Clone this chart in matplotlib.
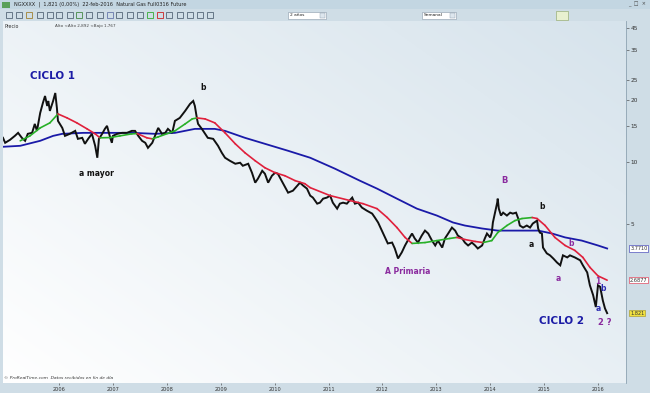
import numpy as np
import matplotlib
matplotlib.use("Agg")
import matplotlib.pyplot as plt
from matplotlib.patches import Rectangle
from matplotlib.ticker import FixedLocator, FixedFormatter, NullLocator

# ---------------- data (decimal year, price) ----------------
price_t = [2004.96, 2005.00, 2005.09, 2005.18, 2005.24, 2005.31, 2005.37, 2005.42, 2005.50, 2005.55,
           2005.59, 2005.65, 2005.70, 2005.74, 2005.78, 2005.80, 2005.83, 2005.89, 2005.93, 2005.96,
           2005.98, 2006.06, 2006.11, 2006.20, 2006.30, 2006.35, 2006.43, 2006.48, 2006.54, 2006.61,
           2006.67, 2006.71, 2006.74, 2006.80, 2006.85, 2006.89, 2006.95, 2006.98, 2007.00, 2007.08,
           2007.17, 2007.26, 2007.35, 2007.41, 2007.47, 2007.54, 2007.60, 2007.65, 2007.73, 2007.78,
           2007.84, 2007.91, 2007.97, 2008.02, 2008.10, 2008.15, 2008.24, 2008.34, 2008.43, 2008.49,
           2008.52, 2008.56, 2008.58, 2008.65, 2008.71, 2008.76, 2008.86, 2008.95, 2009.02, 2009.08,
           2009.17, 2009.27, 2009.36, 2009.41, 2009.51, 2009.58, 2009.64, 2009.69, 2009.77, 2009.82,
           2009.88, 2009.95, 2010.01, 2010.06, 2010.16, 2010.25, 2010.34, 2010.42, 2010.47, 2010.53,
           2010.60, 2010.66, 2010.71, 2010.79, 2010.84, 2010.90, 2010.97, 2011.03, 2011.08, 2011.16,
           2011.21, 2011.27, 2011.34, 2011.44, 2011.49, 2011.55, 2011.62, 2011.71, 2011.81, 2011.86,
           2011.92, 2011.99, 2012.05, 2012.10, 2012.18, 2012.23, 2012.29, 2012.36, 2012.42, 2012.47,
           2012.55, 2012.60, 2012.66, 2012.73, 2012.79, 2012.85, 2012.92, 2012.98, 2013.03, 2013.11,
           2013.16, 2013.22, 2013.29, 2013.35, 2013.40, 2013.48, 2013.53, 2013.59, 2013.66, 2013.72,
           2013.77, 2013.85, 2013.90, 2013.94, 2014.00, 2014.03, 2014.05, 2014.09, 2014.13, 2014.14,
           2014.16, 2014.20, 2014.24, 2014.31, 2014.37, 2014.42, 2014.48, 2014.52, 2014.55, 2014.61,
           2014.68, 2014.74, 2014.79, 2014.87, 2014.89, 2014.92, 2014.96, 2014.98, 2015.05, 2015.11,
           2015.17, 2015.24, 2015.30, 2015.35, 2015.43, 2015.48, 2015.57, 2015.67, 2015.72, 2015.80,
           2015.85, 2015.91, 2015.96, 2016.00, 2016.04, 2016.07, 2016.09, 2016.13, 2016.17]
price_v = [13.08, 12.37, 12.79, 13.37, 13.83, 13.08, 12.65, 13.68, 13.83, 15.29,
           14.14, 17.29, 19.34, 20.91, 18.70, 19.78, 17.69, 19.78, 21.63, 18.29,
           15.82, 14.62, 13.37, 13.68, 14.14, 12.93, 13.08, 12.23, 12.93, 13.68,
           11.96, 10.46, 12.93, 13.68, 14.46, 14.96, 13.08, 12.37, 13.37, 13.68,
           13.83, 13.83, 14.14, 14.14, 13.37, 12.65, 12.37, 11.69, 12.37, 13.37,
           14.62, 13.68, 13.83, 14.46, 13.83, 15.82, 16.35, 17.69, 19.13, 19.78,
           18.70, 16.17, 15.29, 14.46, 13.68, 13.08, 12.93, 11.96, 11.06, 10.46,
           10.11, 9.78, 9.89, 9.56, 9.78, 8.84, 7.91, 8.27, 9.04, 8.74,
           7.91, 8.55, 8.84, 8.74, 7.82, 7.07, 7.23, 7.65, 7.91, 7.65,
           7.40, 6.84, 6.69, 6.25, 6.32, 6.61, 6.69, 6.84, 6.32, 5.91,
           6.25, 6.32, 6.25, 6.69, 6.25, 6.32, 5.98, 5.78, 5.59, 5.35,
           5.06, 4.62, 4.28, 4.00, 4.04, 3.78, 3.38, 3.62, 3.91, 4.13,
           4.47, 4.23, 4.04, 4.37, 4.62, 4.47, 4.13, 3.91, 4.13, 3.82,
           4.23, 4.47, 4.78, 4.62, 4.37, 4.23, 4.04, 3.91, 4.04, 3.91,
           3.78, 3.91, 4.23, 4.47, 4.28, 4.52, 5.06, 5.65, 6.32, 6.61,
           5.91, 5.47, 5.65, 5.47, 5.65, 5.59, 5.65, 5.29, 4.89, 4.78,
           4.89, 4.78, 5.00, 5.17, 4.73, 4.52, 4.47, 3.82, 3.58, 3.50,
           3.38, 3.23, 3.13, 3.50, 3.42, 3.50, 3.42, 3.31, 3.13, 2.89,
           2.50, 2.24, 1.96, 2.50, 2.46, 2.24, 2.11, 1.93, 1.83]

# medium moving average (green when rising, red when falling)
ma_t = [2005.28, 2005.46, 2005.65, 2005.83, 2005.98, 2006.15, 2006.33, 2006.52, 2006.67, 2006.76,
        2006.95, 2007.13, 2007.35, 2007.45, 2007.63, 2007.73, 2007.84, 2008.15, 2008.34, 2008.47,
        2008.56, 2008.71, 2008.89, 2009.08, 2009.27, 2009.45, 2009.64, 2009.82, 2010.01, 2010.19,
        2010.38, 2010.56, 2010.66, 2011.03, 2011.40, 2011.64, 2011.90, 2012.09, 2012.27, 2012.42,
        2012.55, 2012.79, 2013.01, 2013.25, 2013.38, 2013.53, 2013.72, 2013.87, 2014.03, 2014.14,
        2014.31, 2014.46, 2014.59, 2014.78, 2014.87, 2015.02, 2015.20, 2015.39, 2015.57, 2015.72,
        2015.85, 2016.00, 2016.17]
ma_v = [12.65, 13.37, 14.62, 15.47, 17.10, 16.35, 15.47, 14.46, 13.68, 13.08,
        13.12, 13.37, 13.68, 13.72, 13.08, 12.93, 13.22, 14.14, 15.29, 16.17,
        16.35, 16.17, 15.47, 13.83, 12.23, 11.06, 10.11, 9.35, 8.84, 8.55,
        8.09, 7.82, 7.48, 6.84, 6.47, 6.25, 5.91, 5.35, 4.78, 4.28,
        4.00, 4.04, 4.13, 4.23, 4.28, 4.18, 4.09, 4.04, 4.13, 4.52,
        4.89, 5.17, 5.29, 5.35, 5.29, 4.89, 4.28, 3.91, 3.70, 3.42,
        3.06, 2.78, 2.65]

# long moving average (blue)
lma_t = [2004.96, 2005.28, 2005.65, 2005.89, 2006.06, 2006.45, 2006.76, 2007.37, 2007.78, 2008.15,
         2008.52, 2008.65, 2008.89, 2009.08, 2009.45, 2009.82, 2010.25, 2010.66, 2011.12, 2011.58,
         2011.90, 2012.27, 2012.64, 2013.01, 2013.31, 2013.53, 2013.85, 2014.14, 2014.46, 2014.89,
         2015.15, 2015.39, 2015.70, 2016.00, 2016.17]
lma_v = [11.83, 11.96, 12.65, 13.37, 13.68, 13.83, 13.83, 13.83, 13.68, 13.83,
         14.46, 14.46, 14.46, 14.14, 13.08, 12.23, 11.31, 10.46, 9.25, 8.09,
         7.40, 6.61, 5.91, 5.47, 5.06, 4.89, 4.73, 4.62, 4.62, 4.62,
         4.47, 4.28, 4.13, 3.91, 3.78]

year_ticks = [2006, 2007, 2008, 2009, 2010, 2011, 2012, 2013, 2014, 2015, 2016]
price_ticks = [5, 10, 15, 20, 25, 35, 45]

# annotations: (text, year, price, color, size)
labels = [
    ("CICLO 1", 2005.87, 26.2, "#1c1ca6", 7.5),
    ("b", 2008.67, 22.9, "#111111", 5.5),
    ("a mayor", 2006.69, 8.74, "#111111", 5.5),
    ("A Primaria", 2012.46, 2.92, "#8a2a9e", 5.5),
    ("B", 2014.27, 8.09, "#8a2a9e", 6.0),
    ("b", 2014.96, 6.05, "#111111", 5.5),
    ("a", 2014.76, 3.95, "#111111", 5.5),
    ("b", 2015.50, 4.00, "#8a2a9e", 5.5),
    ("a", 2015.26, 2.70, "#8a2a9e", 5.5),
    ("1", 2016.00, 2.61, "#8a2a9e", 5.5),
    ("b", 2016.09, 2.42, "#2a2ab0", 5.5),
    ("a", 2016.00, 1.93, "#2a2ab0", 5.5),
    ("CICLO 2", 2015.33, 1.67, "#1c1ca6", 7.5),
    ("2 ?", 2016.13, 1.64, "#8a2a9e", 6.0),
]

# ---------------- figure ----------------
W, H = 650, 393
fig = plt.figure(figsize=(W / 100, H / 100), dpi=100)
fig.patch.set_facecolor("#cfdde6")

def fx(px):
    return px / W

def fy(py):
    return 1 - py / H

# title bar & toolbar
fig.add_artist(Rectangle((0, fy(9)), 1, 9 / H, transform=fig.transFigure,
                         facecolor="#c3d6e2", edgecolor="none"))
fig.text(fx(14), fy(4.5), "NGXXXX  |  1,821 (0,00%)  22-feb-2016  Natural Gas Full0316 Future",
         fontsize=3.6, va="center", ha="left", color="#222222")
fig.text(fx(646), fy(4.5), "_  \u25a1  \u00d7", fontsize=3.6, va="center", ha="right", color="#444444")
fig.add_artist(Rectangle((fx(2), fy(8)), 8 / W, 6 / H, transform=fig.transFigure,
                         facecolor="#5aa05a", edgecolor="none"))
# toolbar icons (simple glyphs)
icon_x = [9, 19, 29, 40, 50, 59, 70, 79, 89, 100, 110, 119, 130, 140, 150, 160, 169, 180, 190, 200, 210]
icon_c = ["#556677", "#556677", "#a08030", "#556677", "#556677", "#556677", "#556677", "#448844",
          "#556677", "#556677", "#6677aa", "#556677", "#556677", "#556677", "#33aa33", "#cc2222",
          "#556677", "#556677", "#556677", "#556677", "#556677"]
for ix, ic in zip(icon_x, icon_c):
    fig.add_artist(Rectangle((fx(ix - 3), fy(18)), 6 / W, 6 / H, transform=fig.transFigure,
                             facecolor="none", edgecolor=ic, linewidth=0.6))
for bx, bw, txt in [(288, 38, "2 años"), (422, 34, "Semanal")]:
    fig.add_artist(Rectangle((fx(bx), fy(19)), bw / W, 7 / H, transform=fig.transFigure,
                             facecolor="white", edgecolor="#8899aa", linewidth=0.4))
    fig.text(fx(bx + 2), fy(15.5), txt, fontsize=3.2, va="center", ha="left", color="#222222")
    fig.add_artist(Rectangle((fx(bx + bw - 6), fy(18)), 5 / W, 5 / H, transform=fig.transFigure,
                             facecolor="#dde6ee", edgecolor="#8899aa", linewidth=0.3))
fig.add_artist(Rectangle((fx(556), fy(20)), 12 / W, 9 / H, transform=fig.transFigure,
                         facecolor="#e8f0d0", edgecolor="#8aa060", linewidth=0.4))

# ---------------- main axes ----------------
left, right, top, bottom = 3, 626, 21, 383
ax = fig.add_axes([fx(left), fy(bottom), (right - left) / W, (bottom - top) / H])
ax.set_yscale("log")
ax.set_xlim(2004.96, 2016.52)
ax.set_ylim(0.836, 48.5)

# gradient background
grad = np.linspace(0, 1, 256)
gx, gy = np.meshgrid(grad, grad)
g = 0.55 * gx + 0.45 * (1 - gy)
c0 = np.array([1.0, 1.0, 1.0])
c1 = np.array([0.84, 0.89, 0.925])
img = c0[None, None, :] * (1 - g[..., None]) + c1[None, None, :] * g[..., None]
ax.imshow(img, extent=[0, 1, 0, 1], transform=ax.transAxes, aspect="auto", zorder=0, origin="upper")

ax.plot(price_t, price_v, color="#111111", linewidth=1.4, zorder=3, solid_joinstyle="miter")

for i in range(len(ma_t) - 1):
    col = "#28b028" if ma_v[i + 1] > ma_v[i] else "#e0203c"
    ax.plot(ma_t[i:i + 2], ma_v[i:i + 2], color=col, linewidth=1.2, zorder=4,
            solid_capstyle="round")
ax.plot(lma_t, lma_v, color="#1a1aa8", linewidth=1.3, zorder=2)

for txt, tx, tv, col, fs in labels:
    ax.text(tx, tv, txt, color=col, fontsize=fs, fontweight="bold", ha="center", va="center",
            zorder=6)

# axes styling
for s in ["top", "left", "bottom"]:
    ax.spines[s].set_visible(False)
ax.spines["right"].set_color("#8ea3b2")
ax.spines["right"].set_linewidth(0.6)
ax.yaxis.tick_right()
ax.yaxis.set_major_locator(FixedLocator(price_ticks))
ax.yaxis.set_major_formatter(FixedFormatter([str(v) for v in price_ticks]))
ax.yaxis.set_minor_locator(NullLocator())
ax.tick_params(axis="y", which="major", labelsize=4.2, length=2, width=0.4, pad=1.5,
               colors="#333333", direction="out")
ax.xaxis.set_major_locator(FixedLocator(year_ticks))
ax.xaxis.set_major_formatter(FixedFormatter([str(v) for v in year_ticks]))
ax.tick_params(axis="x", labelsize=3.6, length=1.5, width=0.4, pad=1.5, colors="#333333")

# right-side value tags
tags = [("3.7710", lma_v[-1], "white", "#2a2ab0"),
        ("2.6877", ma_v[-1], "white", "#e0203c"),
        ("1.821", price_v[-1], "#f0e040", "#a09020")]
for txt, val, fc, ec in tags:
    ax.annotate(txt, xy=(1.0, val), xycoords=("axes fraction", "data"), xytext=(3, 0),
                textcoords="offset points", fontsize=3.6, va="center", ha="left", color="#333333",
                bbox=dict(boxstyle="square,pad=0.15", facecolor=fc, edgecolor=ec, linewidth=0.4),
                annotation_clip=False, zorder=7)

# header inside plot
ax.text(0.002, 0.985, "Precio", transform=ax.transAxes, fontsize=3.4, va="center", ha="left",
        color="#333333")
ax.text(0.084, 0.985, "Alto <Alto 2,892 <Bajo 1,767", transform=ax.transAxes, fontsize=3.0,
        va="center", ha="left", color="#444444")
ax.text(0.002, 0.008, "\u00a9 ProRealTime.com  Datos recibidos en fin de día", transform=ax.transAxes,
        fontsize=3.2, va="bottom", ha="left", color="#333333", style="italic")

fig.savefig("out.png", dpi=100, facecolor=fig.get_facecolor())
